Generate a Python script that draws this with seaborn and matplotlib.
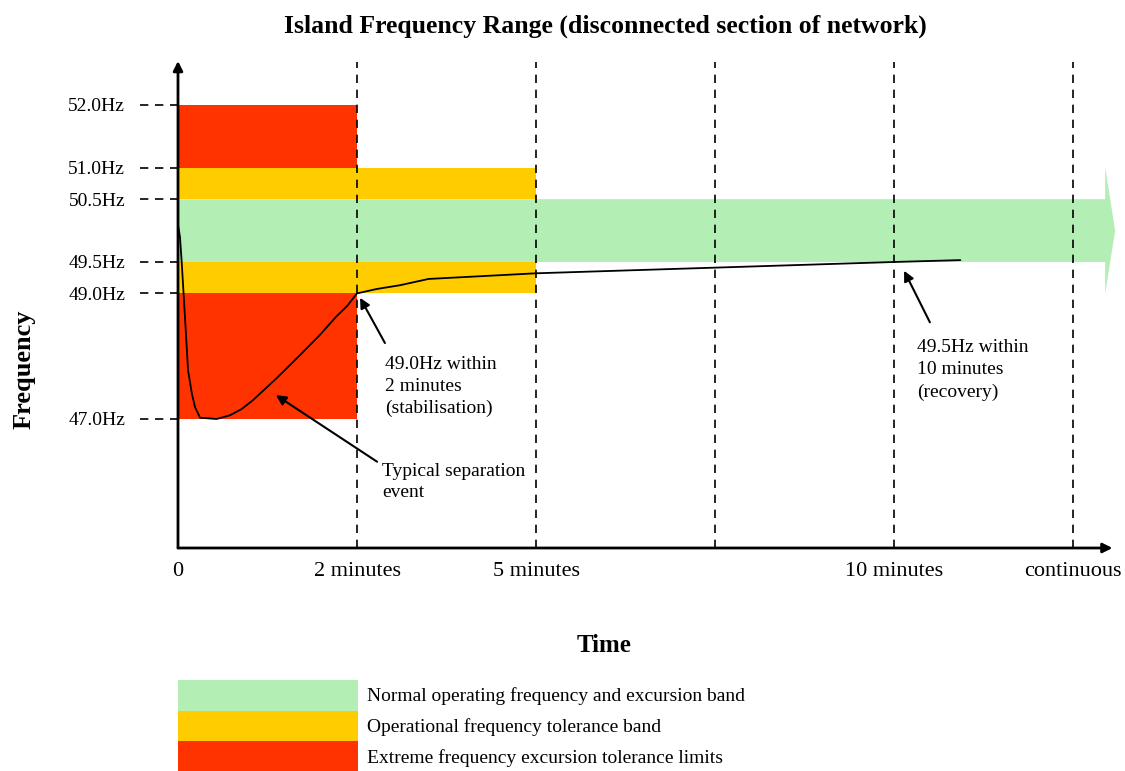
import matplotlib
matplotlib.use("Agg")
import matplotlib.pyplot as plt
import pandas as pd
import seaborn as sns
from matplotlib.patches import FancyArrowPatch, Patch

# time axis: 0 = separation, 1 = 2 min, 2 = 5 min, 4 = 10 min, 5 = continuous
time_ticks = [0, 1, 2, 4, 5]
time_labels = ["0", "2 minutes", "5 minutes", "10 minutes", "continuous"]
grid_times = [1, 2, 3, 4, 5]

freq_ticks = [52.0, 51.0, 50.5, 49.5, 49.0, 47.0]
freq_labels = ["52.0Hz", "51.0Hz", "50.5Hz", "49.5Hz", "49.0Hz", "47.0Hz"]

# tolerance bands (Hz) and how long they last (time units)
extreme_end = 1
extreme_bands = [(51.0, 52.0), (47.0, 49.0)]
operational_end = 2
operational_bands = [(50.5, 51.0), (49.0, 49.5)]
normal_end = 5.235
normal_band = (49.5, 50.5)

# typical separation event trace
event_time = [0, 0.011, 0.021, 0.039, 0.056, 0.077, 0.095, 0.123, 0.216, 0.291,
              0.356, 0.419, 0.551, 0.682, 0.793, 0.887, 0.945, 1.0, 1.11, 1.24,
              1.40, 2.0, 4.0, 4.37]
event_freq = [50.09, 49.90, 49.48, 48.62, 47.78, 47.41, 47.19, 47.02, 47.0, 47.06,
              47.16, 47.30, 47.65, 48.02, 48.34, 48.64, 48.80, 49.0, 49.07, 49.13,
              49.23, 49.32, 49.50, 49.53]

col_normal = "#B3EFB5"
col_oper = "#FFCC00"
col_extreme = "#FF3300"

sns.set_theme(style="white")
plt.rcParams["font.family"] = ["Liberation Serif", "DejaVu Serif"]
plt.rcParams.update({"text.color": "black", "axes.labelcolor": "black",
                     "xtick.color": "black", "ytick.color": "black"})

fig = plt.figure(figsize=(11.25, 7.71), dpi=100)
ax = fig.add_axes([178 / 1125, 223 / 771, 947 / 1125, 490 / 771])
ymin, ytop = 44.946, 52.748
ax.set_xlim(0, 5.29)
ax.set_ylim(ymin, ytop)
for s in ax.spines.values():
    s.set_visible(False)

# bands
for lo, hi in extreme_bands:
    ax.fill_between([0, extreme_end], lo, hi, color=col_extreme, lw=0, zorder=1)
for lo, hi in operational_bands:
    ax.fill_between([0, operational_end], lo, hi, color=col_oper, lw=0, zorder=1)
green = FancyArrowPatch((0, sum(normal_band) / 2), (normal_end, sum(normal_band) / 2),
                        arrowstyle="simple,head_length=7.2,head_width=91,tail_width=45.2",
                        mutation_scale=1, shrinkA=0, shrinkB=0,
                        color=col_normal, lw=0, zorder=1)
ax.add_patch(green)

# dashed time markers
ax.vlines(grid_times, ymin, 52.68, colors="black", linestyles=(0, (5, 4)), lw=1.2, zorder=2)
# dashed tick leaders
ax.hlines(freq_ticks, -0.212, 0, colors="black", linestyles=(0, (5, 4)), lw=1.2,
          clip_on=False, zorder=2)

# event curve
df = pd.DataFrame({"t": event_time, "f": event_freq})
sns.lineplot(data=df, x="t", y="f", estimator=None, sort=False, color="black", lw=1.3,
             ax=ax, zorder=4)

# axis arrows
arrow_kw = dict(arrowstyle="-|>", color="black", lw=2, shrinkA=0, shrinkB=0, mutation_scale=14)
ax.annotate("", xy=(0, 52.7), xytext=(0, ymin), arrowprops=arrow_kw, annotation_clip=False, zorder=5)
ax.annotate("", xy=(5.22, ymin), xytext=(0, ymin), arrowprops=arrow_kw, annotation_clip=False, zorder=5)

ax.set_xticks(time_ticks, time_labels, fontsize=16)
ax.set_yticks(freq_ticks, freq_labels, fontsize=14)
ax.tick_params(axis="y", length=0, pad=38)
ax.tick_params(axis="x", length=0, pad=10)
ax.set_xlabel("Time", fontsize=18, fontweight="bold")
ax.set_ylabel("Frequency", fontsize=19, fontweight="bold", va="center")
ax.xaxis.set_label_coords(0.45, -0.176)
ax.yaxis.set_label_coords(-0.163, 0.365)

# annotations
note_kw = dict(arrowstyle="-|>", color="black", lw=1.5, shrinkA=0, shrinkB=0, mutation_scale=15)
ax.annotate("", xy=(1.017, 48.93), xytext=(1.156, 48.21), arrowprops=note_kw, zorder=5)
ax.text(1.156, 48.0, "49.0Hz within\n2 minutes\n(stabilisation)", fontsize=14,
        va="top", ha="left", linespacing=1.38)
ax.annotate("", xy=(0.547, 47.38), xytext=(1.112, 46.32), arrowprops=note_kw, zorder=5)
ax.text(1.14, 46.3, "Typical separation\nevent", fontsize=14, va="top", ha="left",
        linespacing=1.3)
ax.annotate("", xy=(4.056, 49.36), xytext=(4.20, 48.54), arrowprops=note_kw, zorder=5)
ax.text(4.13, 48.27, "49.5Hz within\n10 minutes\n(recovery)", fontsize=14,
        va="top", ha="left", linespacing=1.38)

fig.text(605 / 1125, 1 - 26 / 771, "Island Frequency Range (disconnected section of network)",
         fontsize=18.5, fontweight="bold", ha="center", va="center")

handles = [Patch(facecolor=col_normal, lw=0, label="Normal operating frequency and excursion band"),
           Patch(facecolor=col_oper, lw=0, label="Operational frequency tolerance band"),
           Patch(facecolor=col_extreme, lw=0, label="Extreme frequency excursion tolerance limits")]
fig.legend(handles=handles, loc="upper left", bbox_to_anchor=(178 / 1125, 1 - 680 / 771),
           frameon=False, fontsize=14, handlelength=9.26, handleheight=2.04,
           labelspacing=0, handletextpad=0.45, borderpad=0, borderaxespad=0)

fig.savefig("out.png", dpi=100)
